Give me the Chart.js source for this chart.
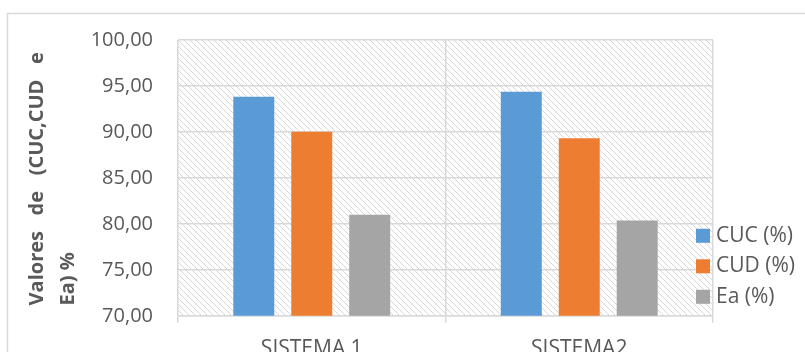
<!DOCTYPE html>
<html lang="pt">

<head>
    <meta charset="UTF-8">
    <meta name="viewport" content="width=device-width, initial-scale=1.0">
    <script src="https://cdn.jsdelivr.net/npm/chart.js"></script>
    <title>CUC CUD Ea</title>
    <style>
        html, body {
            margin: 0;
            padding: 0;
            background: #ffffff;
            overflow: hidden;
        }

        .caixa-grafico {
            width: 805px;
            height: 352px;
            overflow: hidden;
        }
    </style>
</head>

<body>
    <div class="caixa-grafico">
        <canvas id="myChart" width="805" height="376"></canvas>
    </div>

    <script>
        // dados
        const sistemas = ['SISTEMA 1', 'SISTEMA2']
        const cuc = [93.84, 94.38]
        const cud = [90.03, 89.31]
        const ea = [80.98, 80.36]
        const nomesSeries = ['CUC (%)', 'CUD (%)', 'Ea (%)']
        const coresSeries = ['#5B9BD5', '#ED7D31', '#A5A5A5']
        const eixoY = { min: 70, max: 100, passo: 5 }

        const corTexto = '#595959'
        const corGrade = '#d9d9d9'
        const fonte = "'Open Sans', sans-serif"

        // padrao de hachura do fundo da area do grafico
        function criarHachura(ctx) {
            const tam = 6
            const c = document.createElement('canvas')
            c.width = tam
            c.height = tam
            const p = c.getContext('2d')
            p.fillStyle = '#ffffff'
            p.fillRect(0, 0, tam, tam)
            p.strokeStyle = '#d6d6d6'
            p.lineWidth = 1
            p.beginPath()
            p.moveTo(-1, -1)
            p.lineTo(tam + 1, tam + 1)
            p.moveTo(-1, tam - 1)
            p.lineTo(1, tam + 1)
            p.moveTo(tam - 1, -1)
            p.lineTo(tam + 1, 1)
            p.stroke()
            return ctx.createPattern(c, 'repeat')
        }

        const fundo = {
            id: 'fundo',
            beforeDraw(chart) {
                const ctx = chart.ctx
                const area = chart.chartArea
                ctx.save()
                ctx.fillStyle = '#ffffff'
                ctx.fillRect(0, 0, chart.width, chart.height)
                // borda externa do grafico
                ctx.strokeStyle = corGrade
                ctx.lineWidth = 1.5
                ctx.strokeRect(7.5, 13.5, chart.width + 10, chart.height + 10)
                ctx.fillStyle = criarHachura(ctx)
                ctx.fillRect(area.left, area.top, area.right - area.left, area.bottom - area.top)
                ctx.restore()
            }
        }

        // legenda desenhada a direita, por cima da borda da area
        const legendaDireita = {
            id: 'legendaDireita',
            afterDraw(chart) {
                const ctx = chart.ctx
                const area = chart.chartArea
                const x = area.right - 17
                let y = area.bottom - 80
                ctx.save()
                ctx.font = '21px ' + fonte
                ctx.textBaseline = 'middle'
                chart.data.datasets.forEach(function (ds) {
                    ctx.fillStyle = ds.backgroundColor
                    ctx.fillRect(x, y - 7, 14, 14)
                    ctx.fillStyle = corTexto
                    ctx.fillText(ds.label, x + 20, y)
                    y += 30.5
                })
                ctx.restore()
            }
        }

        const data = {
            labels: sistemas,
            datasets: [cuc, cud, ea].map(function (valores, i) {
                return {
                    label: nomesSeries[i],
                    data: valores,
                    backgroundColor: coresSeries[i],
                    barPercentage: 0.707,
                    categoryPercentage: 0.65
                }
            })
        }

        const config = {
            type: 'bar',
            data: data,
            options: {
                responsive: false,
                animation: false,
                layout: {
                    padding: { top: 40, right: 92, bottom: 0, left: 0 }
                },
                plugins: {
                    legend: { display: false },
                    tooltip: { enabled: false }
                },
                scales: {
                    x: {
                        grid: {
                            color: corGrade,
                            lineWidth: 1.5,
                            offset: true,
                            drawTicks: true,
                            tickLength: 7
                        },
                        border: { color: corGrade, width: 1.5 },
                        ticks: {
                            color: corTexto,
                            font: { family: fonte, size: 21 },
                            padding: 14,
                            maxRotation: 0
                        }
                    },
                    y: {
                        min: eixoY.min,
                        max: eixoY.max,
                        afterFit(scale) {
                            scale.width = 178
                        },
                        grid: {
                            color: corGrade,
                            lineWidth: 1.5,
                            drawTicks: false
                        },
                        border: { display: false },
                        ticks: {
                            stepSize: eixoY.passo,
                            color: corTexto,
                            font: { family: fonte, size: 20 },
                            padding: 25,
                            callback: function (v) {
                                return v.toFixed(2).replace('.', ',')
                            }
                        },
                        title: {
                            display: true,
                            text: ['  Valores   de   (CUC,CUD   e', '  Ea) %'],
                            align: 'start',
                            color: corTexto,
                            font: { family: fonte, size: 20, weight: 'bold', lineHeight: 1.55 },
                            padding: { top: 22, bottom: 0 }
                        }
                    }
                }
            },
            plugins: [fundo, legendaDireita]
        }

        var myChart = new Chart(document.getElementById('myChart'), config)
    </script>
</body>

</html>
